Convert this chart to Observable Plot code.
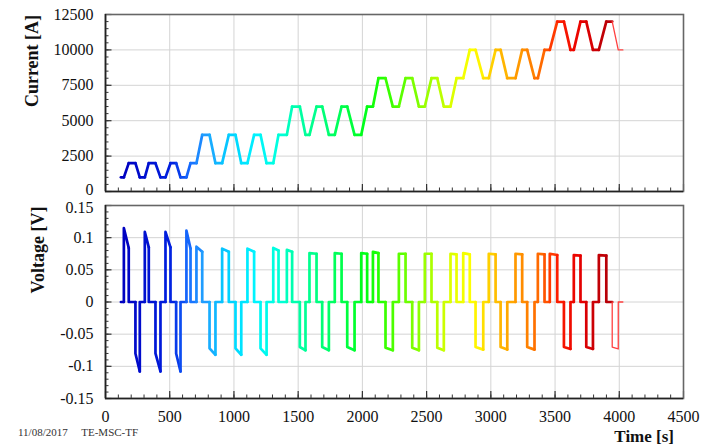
<!DOCTYPE html>
<html><head><meta charset="utf-8">
<script src="https://cdn.jsdelivr.net/npm/d3@7"></script>
<script src="https://cdn.jsdelivr.net/npm/@observablehq/plot@0.6"></script>
<style>
body{margin:0;background:#fff;}
#wrap{position:relative;width:702px;height:447px;overflow:hidden;background:#fff;font-family:"Liberation Serif","Times New Roman",serif;}
#wrap svg{position:absolute;left:0;}
.lab{position:absolute;font-weight:bold;color:#111;white-space:nowrap;line-height:1;}
.rot{transform:translate(-50%,-50%) rotate(-90deg);}
</style></head><body><div id="wrap"></div>
<script>
// ---- data ----
const currentT = [120,143,181,233,267,306,337,389,428,467,506,550,584,630,662,708,753,810,856,908,960,1012,1057,1105,1157,1207,1254,1306,1347,1412,1453,1513,1557,1588,1643,1687,1739,1785,1838,1882,1939,1991,2037,2082,2125,2180,2237,2284,2336,2388,2440,2486,2538,2583,2634,2686,2733,2785,2836,2881,2941,2984,3037,3076,3128,3192,3244,3283,3340,3366,3418,3459,3517,3569,3620,3646,3698,3743,3795,3841,3899,3945,3992,4028];
const currentA = [1000,
 1000,2000, 2000,1000, 1000,2000, 2000,1000, 1000,2000, 2000,1000, 1000,2000,
 2000,4000, 4000,2000, 2000,4000, 4000,2000, 2000,4000, 4000,2000, 2000,4000,
 4000,6000, 6000,4000, 4000,6000, 6000,4000, 4000,6000, 6000,4000, 4000,6000,
 6000,8000, 8000,6000, 6000,8000, 8000,6000, 6000,8000, 8000,6000, 6000,8000,
 8000,10000, 10000,8000, 8000,10000, 10000,8000, 8000,10000, 10000,8000, 8000,10000,
 10000,12000, 12000,10000, 10000,12000, 12000,10000, 10000,12000, 12000,10000,
 10000];
// voltage pulses: start time, end time, value at start, value at end
const pulseStart = [143,233,306,389,467,550,630, 708,810,908,1012,1105,1207,1306, 1412,1513,1588,1687,1785,1882,1991, 2082,2180,2284,2388,2486,2583,2686, 2785,2881,2984,3076,3192,3283,3366, 3459,3569,3646,3743,3841,3945];
const pulseEnd   = [181,267,337,428,506,584,662, 753,856,960,1057,1157,1254,1347, 1453,1557,1643,1739,1838,1939,2037, 2125,2237,2336,2440,2538,2634,2733, 2836,2941,3037,3128,3244,3340,3418, 3517,3620,3698,3795,3899,3992];
const pulseV0 = [0.115,-0.080,0.109,-0.080,0.109,-0.080,0.111, 0.086,-0.072,0.083,-0.072,0.083,-0.072,0.084, 0.081,-0.070,0.076,-0.070,0.076,-0.070,0.076, 0.078,-0.071,0.075,-0.071,0.075,-0.071,0.075, 0.076,-0.070,0.075,-0.070,0.075,-0.070,0.075, 0.075,-0.070,0.073,-0.070,0.073,-0.070];
const pulseV1 = [0.084,-0.108,0.085,-0.108,0.085,-0.108,0.083, 0.078,-0.082,0.078,-0.082,0.078,-0.082,0.080, 0.078,-0.075,0.075,-0.075,0.075,-0.075,0.075, 0.076,-0.075,0.075,-0.075,0.075,-0.075,0.074, 0.074,-0.074,0.074,-0.074,0.074,-0.074,0.074, 0.073,-0.073,0.072,-0.073,0.072,-0.073];
const voltStartT = 120, voltEndT = 4028;

const xTicks = [0,500,1000,1500,2000,2500,3000,3500,4000,4500];
const currentTicks = [0,2500,5000,7500,10000,12500];
const voltTicks = [-0.15,-0.1,-0.05,0,0.05,0.1,0.15];
const xMinor = d3.range(0,4501,100);
const currentMinor = d3.range(0,12501,500);
const voltMinor = d3.range(-15,16,1).map(d=>d/100);

// ---- styling ----
const colorKnots = [120,500,650,760,950,1150,1330,1450,1650,1850,2030,2150,2350,2550,2720,2850,3030,3230,3400,3500,3680,3880];
const colorRange = ["#0000c0","#0020e0","#1870ff","#20a0ff","#00d0ff","#00f4ff","#00ffdc","#00ffb0","#00ff80","#00ff48","#00ff10","#30ff00","#70ff00","#b0ff00","#e8ff00","#ffff00","#ffc000","#ff9000","#ff6000","#ff2000","#e80000","#b80008"];
const col = d3.scaleLinear().domain(colorKnots).range(colorRange).clamp(true);
const thinFrom = 3945, thinColor = "#ff4040";

const currentData = currentT.map((t,i)=>({t, v: currentA[i]}));
const voltData = [{t: voltStartT, v: 0}];
pulseStart.forEach((t0,i)=>{
  const t1 = pulseEnd[i];
  voltData.push({t:t0,v:0},{t:t0,v:pulseV0[i]},{t:t1,v:pulseV1[i]},{t:t1,v:0});
});
voltData.push({t: voltEndT, v: 0});

function split(data){
  const k = data.findIndex(d=>d.t>=thinFrom);
  return [data.slice(0,k+1), data.slice(k)];
}

const W = 702, ML = 105, MR = 19;
const FW = W-ML-MR;
const font = {fontFamily:'"Liberation Serif","Times New Roman",serif', fontSize:"16px", color:"#111", background:"transparent", overflow:"visible"};

function panel({data, yDomain, yTicks, yMinor, height, mt, mb, xLabels, edgeTick, edgeDy}){
  const FH = height-mt-mb;
  const [main, thin] = split(data);
  const inner = yTicks.filter(d=>d!==edgeTick);
  const marks = [
    Plot.gridX(xTicks, {stroke:"#d4d4d4", strokeOpacity:1, strokeWidth:1}),
    Plot.gridY(yTicks, {stroke:"#d4d4d4", strokeOpacity:1, strokeWidth:1}),
    Plot.tickX(xMinor, {x:d=>d, insetTop: FH-3.5, stroke:"#333", strokeWidth:1}),
    Plot.tickX(xTicks, {x:d=>d, insetTop: FH-7, stroke:"#333", strokeWidth:1.2}),
    Plot.tickY(yMinor, {y:d=>d, insetRight: FW-3.5, stroke:"#333", strokeWidth:1}),
    Plot.tickY(yTicks, {y:d=>d, insetRight: FW-6.5, stroke:"#333", strokeWidth:1.2}),
    Plot.line(main, {x:"t", y:"v", z:null, stroke: d=>col(d.t), strokeWidth:2.7, strokeLinejoin:"round", strokeLinecap:"round"}),
    Plot.line(thin, {x:"t", y:"v", stroke: thinColor, strokeWidth:1.3}),
    Plot.frame({stroke:"#666", strokeWidth:1.6}),
    Plot.ruleX([0], {stroke:"#222", strokeWidth:1.6}),
    Plot.ruleY([yDomain[0]], {stroke:"#222", strokeWidth:1.6}),
    Plot.text(inner, {y:d=>d, text:d=>String(d), frameAnchor:"left", textAnchor:"end", dx:-12, fontSize:16, fill:"#111"}),
    Plot.text([edgeTick], {y:d=>d, text:d=>String(d), frameAnchor:"left", textAnchor:"end", dx:-12, dy:edgeDy, fontSize:16, fill:"#111"})
  ];
  if (xLabels) marks.push(Plot.axisX(xTicks, {anchor:"bottom", tickSize:0, tickPadding:12, tickFormat:d=>String(d), label:null, fontSize:16}));
  return Plot.plot({
    width: W, height, marginLeft: ML, marginRight: MR, marginTop: mt, marginBottom: mb,
    style: font,
    x: {domain:[0,4500], axis:null},
    y: {domain:yDomain, axis:null},
    color: {type:"identity"},
    marks
  });
}

const wrap = document.getElementById("wrap");
const topPanel = panel({data: currentData, yDomain:[0,12500], yTicks: currentTicks, yMinor: currentMinor, height:200, mt:14, mb:9, xLabels:false, edgeTick:0, edgeDy:-2});
topPanel.style.top = "0px";
const botPanel = panel({data: voltData, yDomain:[-0.15,0.15], yTicks: voltTicks, yMinor: voltMinor, height:247, mt:5, mb:49, xLabels:true, edgeTick:0.15, edgeDy:2});
botPanel.style.top = "200px";
wrap.appendChild(topPanel); wrap.appendChild(botPanel);

function label(text, css, cls){
  const d = document.createElement("div");
  d.className = "lab " + (cls||"");
  d.textContent = text;
  Object.assign(d.style, css);
  wrap.appendChild(d);
}
label("Current [A]", {left:"32px", top:"61px", fontSize:"18px"}, "rot");
label("Voltage [V]", {left:"38px", top:"250px", fontSize:"18px"}, "rot");
label("Time [s]", {right:"28px", top:"428px", fontSize:"17px"});
label("11/08/2017\u2003 TE-MSC-TF", {left:"18px", top:"427px", fontSize:"11px", fontWeight:"normal", color:"#333"});
</script></body></html>
